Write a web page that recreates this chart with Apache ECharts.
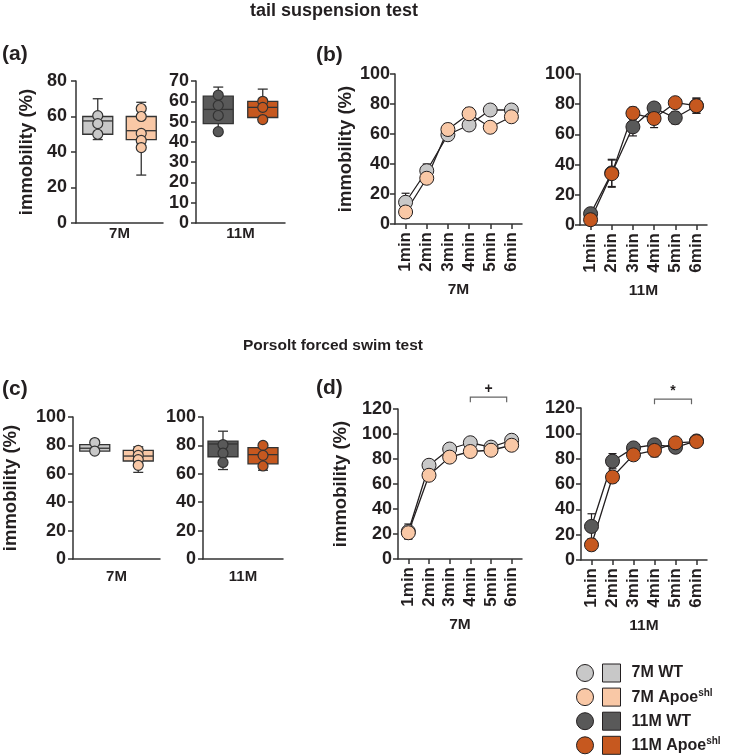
<!DOCTYPE html>
<html>
<head>
<meta charset="utf-8">
<script src="https://cdn.jsdelivr.net/npm/echarts@6/dist/echarts.min.js"></script>
<style>
  html, body { margin: 0; padding: 0; background: #fff; }
  #chart { width: 730px; height: 755px; }
</style>
</head>
<body>
<div id="chart"></div>
<script>
const FONT = '"Liberation Sans", Arial, sans-serif';
const INK = '#231f20';
const AXIS = '#333333';

const minutes = ['1min', '2min', '3min', '4min', '5min', '6min'];
const genotypes = ['WT', 'Apoe'];
const groupNames = ['7M WT', '7M Apoe', '11M WT', '11M Apoe'];
const groupColors = ['#c8c8c8', '#f9c8a6', '#595959', '#c6581f'];

// (a) tail suspension test, box stats [min, Q1, median, Q3, max]
const tst7WTBox = [47, 50, 57.5, 60, 70];
const tst7ApoeBox = [27, 47, 52, 60, 68];
const tst11WTBox = [44.5, 49, 56, 62.5, 67];
const tst11ApoeBox = [51, 52, 57, 60, 66];
const tst7WTPts = [60.5, 56, 50];
const tst7ApoePts = [64.5, 60, 50.5, 46.5, 42.5];
const tst11WTPts = [63, 58, 53, 45];
const tst11ApoePts = [60, 57, 51];

// (b) tail suspension test per minute, mean and SEM
const tst7WT = [14.5, 35.5, 59.5, 66, 76, 76];
const tst7WTSem = [6, 4.5, 3.5, 3, 2, 2];
const tst7Apoe = [8, 30.5, 63, 73.5, 64.5, 71.5];
const tst7ApoeSem = [4, 3, 4, 4, 2, 2];
const tst11WT = [7.5, 34.5, 65, 77.5, 71, 79];
const tst11WTSem = [2, 9, 6, 3, 4, 5];
const tst11Apoe = [3.5, 34, 74, 70.5, 81, 79];
const tst11ApoeSem = [1, 9, 4, 6, 3, 5];

// (c) forced swim test, box stats [min, Q1, median, Q3, max]
const fst7WTBox = [76, 76, 78, 80.5, 82];
const fst7ApoeBox = [61, 69, 72.5, 76.5, 79];
const fst11WTBox = [63, 72, 81, 83, 90];
const fst11ApoeBox = [62.5, 67, 73.5, 78.5, 81];
const fst7WTPts = [82, 76];
const fst7ApoePts = [76.5, 73, 70, 66];
const fst11WTPts = [80.5, 74.5, 68];
const fst11ApoePts = [80, 73, 65.5];

// (d) forced swim test per minute, mean and SEM
const fst7WT = [22, 75, 88, 93, 89.5, 95];
const fst7WTSem = [6, 4, 3, 3, 2, 2];
const fst7Apoe = [21, 67, 81.5, 86, 87, 91];
const fst7ApoeSem = [5, 3, 3, 3, 2, 2];
const fst11WT = [26.5, 78, 88.5, 91, 89, 94];
const fst11WTSem = [10, 6, 3, 3, 2, 2];
const fst11Apoe = [12, 65.5, 83, 86.5, 92.5, 93.5];
const fst11ApoeSem = [4.5, 4.5, 3, 5, 2, 2];

const chart = echarts.init(document.getElementById('chart'));

const boldFont = { color: INK, fontFamily: FONT, fontWeight: 'bold' };

function yAxis(gridIndex, max, interval, withName, nameGap, margin) {
  return {
    type: 'value', gridIndex, min: 0, max, interval,
    name: withName ? 'immobility (%)' : '',
    nameLocation: 'middle', nameRotate: 90, nameGap,
    nameTextStyle: { ...boldFont, fontSize: 18.5 },
    axisLine: { show: true, lineStyle: { color: AXIS, width: 1.5 } },
    axisTick: { show: true, length: 5, lineStyle: { color: AXIS, width: 1.5 } },
    axisLabel: { ...boldFont, fontSize: 18, margin },
    splitLine: { show: false },
  };
}

function boxXAxis(gridIndex, name, nameGap) {
  return {
    type: 'category', gridIndex, data: genotypes,
    name, nameLocation: 'middle', nameGap,
    nameTextStyle: { ...boldFont, fontSize: 15 },
    axisLine: { lineStyle: { color: AXIS, width: 1.5 } },
    axisTick: { show: false },
    axisLabel: { show: false },
  };
}

function minuteXAxis(gridIndex, name) {
  return {
    type: 'category', gridIndex, data: minutes,
    name, nameLocation: 'middle', nameGap: 58,
    nameTextStyle: { ...boldFont, fontSize: 15.5 },
    axisLine: { lineStyle: { color: AXIS, width: 1.5 } },
    axisTick: { show: true, alignWithLabel: true, length: 5, lineStyle: { color: AXIS, width: 1.5 } },
    axisLabel: { ...boldFont, fontSize: 17, rotate: 90, margin: 8, interval: 0 },
  };
}

function renderBox(params, api) {
  const i = api.value(0);
  const p = [1, 2, 3, 4, 5].map((k) => api.coord([i, api.value(k)]));
  const x = p[0][0];
  const hw = 15;
  const cw = 5;
  const stroke = { stroke: AXIS, lineWidth: 1.3 };
  const seg = (x1, y1, x2, y2) => ({ type: 'line', shape: { x1, y1, x2, y2 }, style: stroke });
  return {
    type: 'group',
    children: [
      seg(x, p[0][1], x, p[1][1]),
      seg(x, p[3][1], x, p[4][1]),
      seg(x - cw, p[0][1], x + cw, p[0][1]),
      seg(x - cw, p[4][1], x + cw, p[4][1]),
      {
        type: 'rect',
        shape: { x: x - hw, y: p[3][1], width: hw * 2, height: p[1][1] - p[3][1] },
        style: { fill: api.visual('color'), stroke: AXIS, lineWidth: 1.3 },
      },
      seg(x - hw, p[2][1], x + hw, p[2][1]),
    ],
  };
}

function boxSeries(gridIndex, catIndex, stats, points, color) {
  return [
    {
      type: 'custom', xAxisIndex: gridIndex, yAxisIndex: gridIndex,
      renderItem: renderBox, itemStyle: { color }, z: 2,
      data: [[catIndex, ...stats]],
    },
    {
      type: 'scatter', xAxisIndex: gridIndex, yAxisIndex: gridIndex,
      symbol: 'circle', symbolSize: 10, z: 3,
      itemStyle: { color, borderColor: AXIS, borderWidth: 1.2, opacity: 1 },
      data: points.map((v) => [catIndex, v]),
    },
  ];
}

function renderErr(params, api) {
  const i = api.value(0);
  const m = api.value(1);
  const s = api.value(2);
  const top = api.coord([i, m + s]);
  const bot = api.coord([i, m - s]);
  const cap = 4;
  const style = { stroke: INK, lineWidth: 1.2 };
  const seg = (x1, y1, x2, y2) => ({ type: 'line', shape: { x1, y1, x2, y2 }, style });
  return {
    type: 'group',
    children: [
      seg(top[0], top[1], bot[0], bot[1]),
      seg(top[0] - cap, top[1], top[0] + cap, top[1]),
      seg(bot[0] - cap, bot[1], bot[0] + cap, bot[1]),
    ],
  };
}

function meanSeries(gridIndex, group, means, sems) {
  return [
    {
      type: 'custom', xAxisIndex: gridIndex, yAxisIndex: gridIndex,
      renderItem: renderErr, z: 1,
      data: means.map((m, i) => [i, m, sems[i]]),
    },
    {
      name: groupNames[group], type: 'line', xAxisIndex: gridIndex, yAxisIndex: gridIndex,
      symbol: 'circle', symbolSize: 14, z: 3,
      lineStyle: { color: INK, width: 1.3 },
      itemStyle: { color: groupColors[group], borderColor: INK, borderWidth: 1 },
      emphasis: { disabled: true },
      data: means,
    },
  ];
}

function bracketSeries(gridIndex, from, to, level, mark) {
  return {
    type: 'custom', xAxisIndex: gridIndex, yAxisIndex: gridIndex,
    z: 4, silent: true,
    renderItem(params, api) {
      const a = api.coord([api.value(0), api.value(2)]);
      const b = api.coord([api.value(1), api.value(2)]);
      const x2 = b[0] - 5;
      const style = { stroke: '#666', lineWidth: 1.2, fill: null };
      return {
        type: 'group',
        children: [
          {
            type: 'polyline',
            shape: { points: [[a[0], a[1] + 5], [a[0], a[1]], [x2, a[1]], [x2, a[1] + 5]] },
            style,
          },
          {
            type: 'text',
            x: (a[0] + x2) / 2, y: a[1] - 0.5,
            style: {
              text: mark, fill: INK, font: 'bold 14px ' + FONT,
              textAlign: 'center', textVerticalAlign: 'bottom', align: 'center', verticalAlign: 'bottom',
            },
          },
        ],
      };
    },
    data: [[from, to, level]],
  };
}

function text(x, y, str, size, align) {
  return {
    type: 'text', x, y,
    style: {
      text: str, fill: INK, font: 'bold ' + size + 'px ' + FONT,
      textAlign: align, textVerticalAlign: 'middle', align, verticalAlign: 'middle',
    },
  };
}

const option = {
  animation: false,
  graphic: [
    text(334, 11, 'tail suspension test', 18, 'center'),
    text(333, 346, 'Porsolt forced swim test', 15.5, 'center'),
    text(2, 54, '(a)', 21, 'left'),
    text(316, 55, '(b)', 21, 'left'),
    text(2, 389, '(c)', 21, 'left'),
    text(316, 388, '(d)', 21, 'left'),
  ],
  grid: [
    { left: 76, top: 81, width: 87, height: 142 },
    { left: 196, top: 81, width: 89, height: 142 },
    { left: 395, top: 74, width: 127, height: 150 },
    { left: 580, top: 74, width: 127, height: 151 },
    { left: 72, top: 417, width: 88, height: 142 },
    { left: 203, top: 417, width: 80, height: 142 },
    { left: 398, top: 409, width: 124, height: 150 },
    { left: 581, top: 408, width: 126, height: 152 },
  ],
  xAxis: [
    boxXAxis(0, '7M', 3),
    boxXAxis(1, '11M', 3),
    minuteXAxis(2, '7M'),
    minuteXAxis(3, '11M'),
    boxXAxis(4, '7M', 10),
    boxXAxis(5, '11M', 10),
    minuteXAxis(6, '7M'),
    minuteXAxis(7, '11M'),
  ],
  yAxis: [
    yAxis(0, 80, 20, true, 40, 9),
    yAxis(1, 70, 10, false, 0, 7),
    yAxis(2, 100, 20, true, 40, 5),
    yAxis(3, 100, 20, false, 0, 5),
    yAxis(4, 100, 20, true, 53, 7),
    yAxis(5, 100, 20, false, 0, 7),
    yAxis(6, 120, 20, true, 48, 6),
    yAxis(7, 120, 20, false, 0, 6),
  ],
  legend: [
    {
      data: groupNames, orient: 'vertical', left: 576, top: 664, padding: 0, height: 100,
      icon: 'circle', itemWidth: 17, itemHeight: 17, itemGap: 6.1,
      selectedMode: false, formatter: () => '',
      itemStyle: { borderColor: INK, borderWidth: 1 },
    },
    {
      data: groupNames, orient: 'vertical', left: 602, top: 663.5, padding: 0, height: 100,
      icon: 'rect', itemWidth: 18, itemHeight: 18, itemGap: 5.1,
      selectedMode: false,
      itemStyle: { borderColor: INK, borderWidth: 1 },
      formatter: (name) => (name.endsWith('Apoe') ? '{m|' + name + '}{s|shl}' : '{m|' + name + '}'),
      textStyle: {
        padding: [0, 0, 0, 6],
        rich: {
          m: { fontFamily: FONT, fontWeight: 'bold', fontSize: 16, color: INK, lineHeight: 18 },
          s: { fontFamily: FONT, fontWeight: 'bold', fontSize: 10, color: INK, lineHeight: 12, verticalAlign: 'top' },
        },
      },
    },
  ],
  series: [
    ...boxSeries(0, 0, tst7WTBox, tst7WTPts, groupColors[0]),
    ...boxSeries(0, 1, tst7ApoeBox, tst7ApoePts, groupColors[1]),
    ...boxSeries(1, 0, tst11WTBox, tst11WTPts, groupColors[2]),
    ...boxSeries(1, 1, tst11ApoeBox, tst11ApoePts, groupColors[3]),
    ...meanSeries(2, 0, tst7WT, tst7WTSem),
    ...meanSeries(2, 1, tst7Apoe, tst7ApoeSem),
    ...meanSeries(3, 2, tst11WT, tst11WTSem),
    ...meanSeries(3, 3, tst11Apoe, tst11ApoeSem),
    ...boxSeries(4, 0, fst7WTBox, fst7WTPts, groupColors[0]),
    ...boxSeries(4, 1, fst7ApoeBox, fst7ApoePts, groupColors[1]),
    ...boxSeries(5, 0, fst11WTBox, fst11WTPts, groupColors[2]),
    ...boxSeries(5, 1, fst11ApoeBox, fst11ApoePts, groupColors[3]),
    ...meanSeries(6, 0, fst7WT, fst7WTSem),
    ...meanSeries(6, 1, fst7Apoe, fst7ApoeSem),
    ...meanSeries(7, 2, fst11WT, fst11WTSem),
    ...meanSeries(7, 3, fst11Apoe, fst11ApoeSem),
    bracketSeries(6, 3, 5, 129.5, '+'),
    bracketSeries(7, 3, 5, 127, '*'),
  ],
};

chart.setOption(option);
</script>
</body>
</html>
